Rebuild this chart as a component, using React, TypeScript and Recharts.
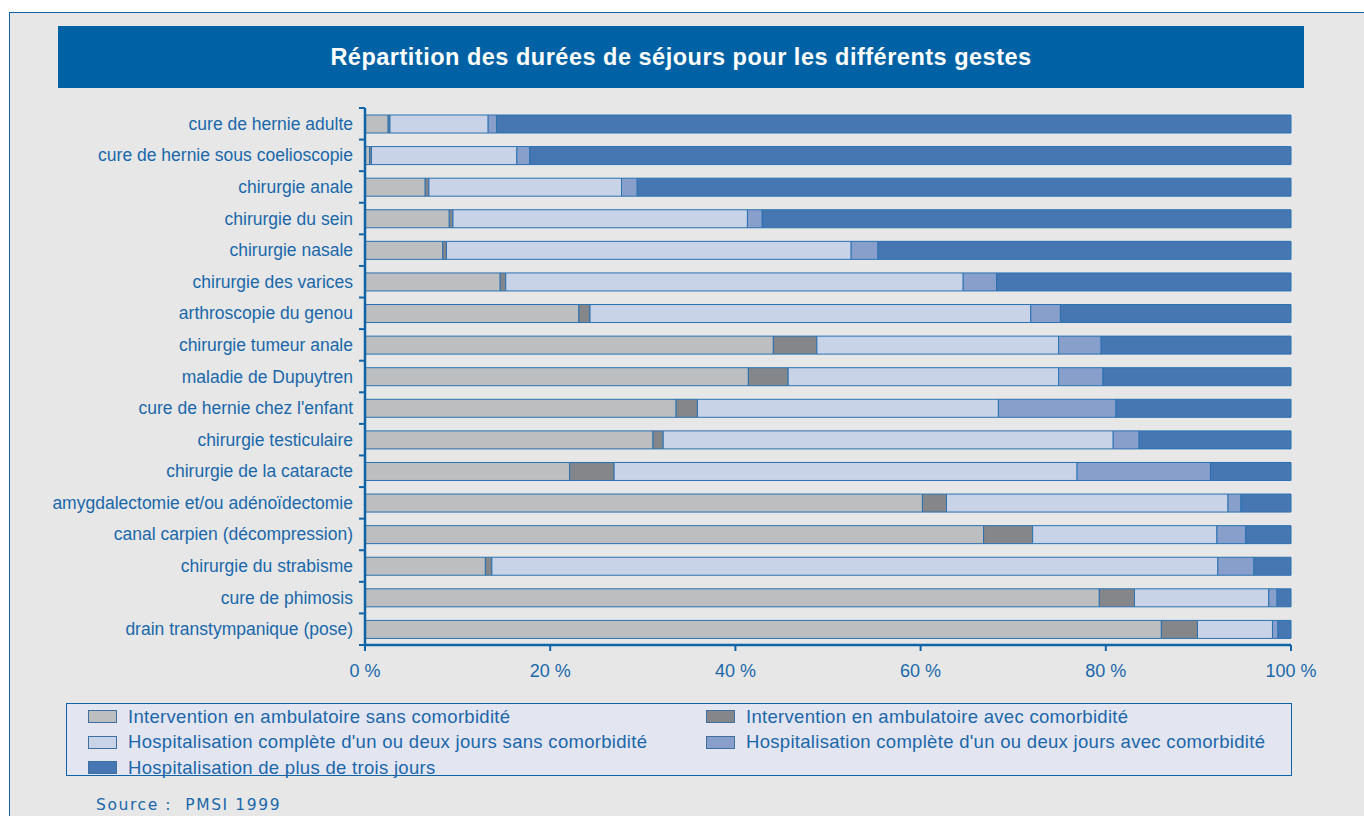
import React from "react";
import { BarChart, Bar, XAxis, YAxis } from "recharts";

// gestes, top to bottom
const categories = [
  "cure de hernie adulte",
  "cure de hernie sous coelioscopie",
  "chirurgie anale",
  "chirurgie du sein",
  "chirurgie nasale",
  "chirurgie des varices",
  "arthroscopie du genou",
  "chirurgie tumeur anale",
  "maladie de Dupuytren",
  "cure de hernie chez l'enfant",
  "chirurgie testiculaire",
  "chirurgie de la cataracte",
  "amygdalectomie et/ou adénoïdectomie",
  "canal carpien (décompression)",
  "chirurgie du strabisme",
  "cure de phimosis",
  "drain transtympanique (pose)",
];

const ambuSans = [2.5, 0.5, 6.5, 9.1, 8.4, 14.6, 23.1, 44.1, 41.4, 33.6, 31.1, 22.1, 60.2, 66.8, 13.0, 79.3, 86.0];
const ambuAvec = [0.2, 0.2, 0.4, 0.4, 0.4, 0.6, 1.2, 4.7, 4.3, 2.3, 1.1, 4.8, 2.6, 5.3, 0.7, 3.8, 3.9];
const hospCourteSans = [10.6, 15.7, 20.8, 31.8, 43.7, 49.4, 47.6, 26.1, 29.2, 32.5, 48.6, 50.0, 30.4, 19.9, 78.4, 14.5, 8.1];
const hospCourteAvec = [0.9, 1.4, 1.7, 1.6, 2.9, 3.6, 3.2, 4.6, 4.8, 12.7, 2.8, 14.4, 1.4, 3.1, 3.9, 0.9, 0.6];
const hospLongue = [85.8, 82.2, 70.6, 57.1, 44.6, 31.8, 24.9, 20.5, 20.3, 18.9, 16.4, 8.7, 5.4, 4.9, 4.0, 1.5, 1.4];

const xTicks = [0, 20, 40, 60, 80, 100];

const series = [
  { key: "ambuSans", name: "Intervention en ambulatoire sans comorbidité", color: "#BDBEBF", values: ambuSans },
  { key: "ambuAvec", name: "Intervention en ambulatoire avec comorbidité", color: "#858689", values: ambuAvec },
  { key: "hospCourteSans", name: "Hospitalisation complète d'un ou deux jours sans comorbidité", color: "#C9D3E8", values: hospCourteSans },
  { key: "hospCourteAvec", name: "Hospitalisation complète d'un ou deux jours avec comorbidité", color: "#889FCB", values: hospCourteAvec },
  { key: "hospLongue", name: "Hospitalisation de plus de trois jours", color: "#4777B2", values: hospLongue },
];

const data = categories.map((name, i) => {
  const row: Record<string, string | number> = { name };
  series.forEach((s) => (row[s.key] = s.values[i]));
  return row;
});

const BLUE = "#1A67AB";
const AXIS = "#0F64A8";
const FONT = "'Liberation Sans', Arial, sans-serif";

const PLOT_TOP = 108;
const PLOT_BOTTOM = 645;
const BAND = (PLOT_BOTTOM - PLOT_TOP) / categories.length;

function CategoryTick(props: any) {
  const { x, y, payload, index } = props;
  return (
    <g>
      <text x={x - 12} y={y} textAnchor="end" dominantBaseline="central" fill={BLUE} fontSize={17.5} fontFamily={FONT}>
        {payload.value}
      </text>
      {index === 0 && <line x1={x} x2={x - 6} y1={y - BAND / 2} y2={y - BAND / 2} stroke={AXIS} strokeWidth={2} />}
      <line x1={x} x2={x - 6} y1={y + BAND / 2} y2={y + BAND / 2} stroke={AXIS} strokeWidth={2} />
    </g>
  );
}

function LegendBox() {
  const left = series.filter((_, i) => i % 2 === 0);
  const right = series.filter((_, i) => i % 2 === 1);
  const item = (s: (typeof series)[number]) => (
    <div key={s.key} style={{ display: "flex", alignItems: "center", height: 25.5 }}>
      <span
        style={{
          display: "inline-block",
          width: 27,
          height: 11,
          background: s.color,
          border: "1px solid #3F6F9F",
          marginRight: 11,
        }}
      />
      <span>{s.name}</span>
    </div>
  );
  return (
    <div
      style={{
        position: "absolute",
        left: 66,
        top: 703,
        width: 1226,
        height: 73,
        background: "#E3E5F0",
        border: `1.5px solid ${AXIS}`,
        color: BLUE,
        fontFamily: FONT,
        fontSize: 18.5,
        letterSpacing: 0.3,
        boxSizing: "border-box",
      }}
    >
      <div style={{ position: "absolute", left: 21, top: 0 }}>{left.map(item)}</div>
      <div style={{ position: "absolute", left: 639, top: 0 }}>{right.map(item)}</div>
    </div>
  );
}

export default function App() {
  return (
    <div style={{ position: "absolute", left: 0, top: 0, width: 1364, height: 816, background: "#fff", overflow: "hidden" }}>
      <div
        style={{
          position: "absolute",
          left: 9,
          top: 12,
          width: 1400,
          height: 900,
          background: "#E6E7E6",
          borderLeft: `1.5px solid ${AXIS}`,
          borderTop: `1.5px solid ${AXIS}`,
        }}
      />
      <div
        style={{
          position: "absolute",
          left: 58,
          top: 26,
          width: 1246,
          height: 62,
          background: "#0062A5",
          color: "#fff",
          fontFamily: FONT,
          fontWeight: 700,
          fontSize: 23.5,
          letterSpacing: 0.5,
          display: "flex",
          alignItems: "center",
          justifyContent: "center",
        }}
      >
        Répartition des durées de séjours pour les différents gestes
      </div>

      <div style={{ position: "absolute", left: 0, top: 0 }}>
        <BarChart
          width={1364}
          height={700}
          data={data}
          layout="vertical"
          barSize={18}
          margin={{ top: PLOT_TOP, right: 73, left: 0, bottom: 700 - PLOT_BOTTOM - 30 }}
        >
          <XAxis
            type="number"
            domain={[0, 100]}
            ticks={xTicks}
            tickFormatter={(v) => `${v} %`}
            height={30}
            axisLine={{ stroke: AXIS, strokeWidth: 2.5 }}
            tickLine={{ stroke: AXIS, strokeWidth: 2 }}
            tickSize={6}
            tickMargin={13}
            tick={{ fill: BLUE, fontSize: 18, fontFamily: FONT }}
            interval={0}
          />
          <XAxis xAxisId="top" orientation="top" type="number" domain={[0, 100]} height={0} tick={false} tickLine={false} axisLine={{ stroke: AXIS, strokeWidth: 2 }} />
          <YAxis
            type="category"
            dataKey="name"
            width={365}
            axisLine={{ stroke: AXIS, strokeWidth: 2.5 }}
            tickLine={false}
            tickSize={0}
            tickMargin={0}
            tick={<CategoryTick />}
            interval={0}
          />
          <YAxis yAxisId="right" orientation="right" type="category" dataKey="name" width={0} tick={false} tickLine={false} axisLine={{ stroke: AXIS, strokeWidth: 2.5 }} />
          {series.map((s) => (
            <Bar
              key={s.key}
              dataKey={s.key}
              name={s.name}
              stackId="a"
              fill={s.color}
              stroke="#2A71B1"
              strokeWidth={1}
              isAnimationActive={false}
            />
          ))}
        </BarChart>
      </div>

      <LegendBox />

      <div
        style={{
          position: "absolute",
          left: 96,
          top: 796,
          color: BLUE,
          fontFamily: "'DejaVu Sans', sans-serif",
          fontSize: 15.5,
          letterSpacing: 1.6,
          whiteSpace: "pre",
        }}
      >
        {"Source :  PMSI 1999"}
      </div>
    </div>
  );
}
